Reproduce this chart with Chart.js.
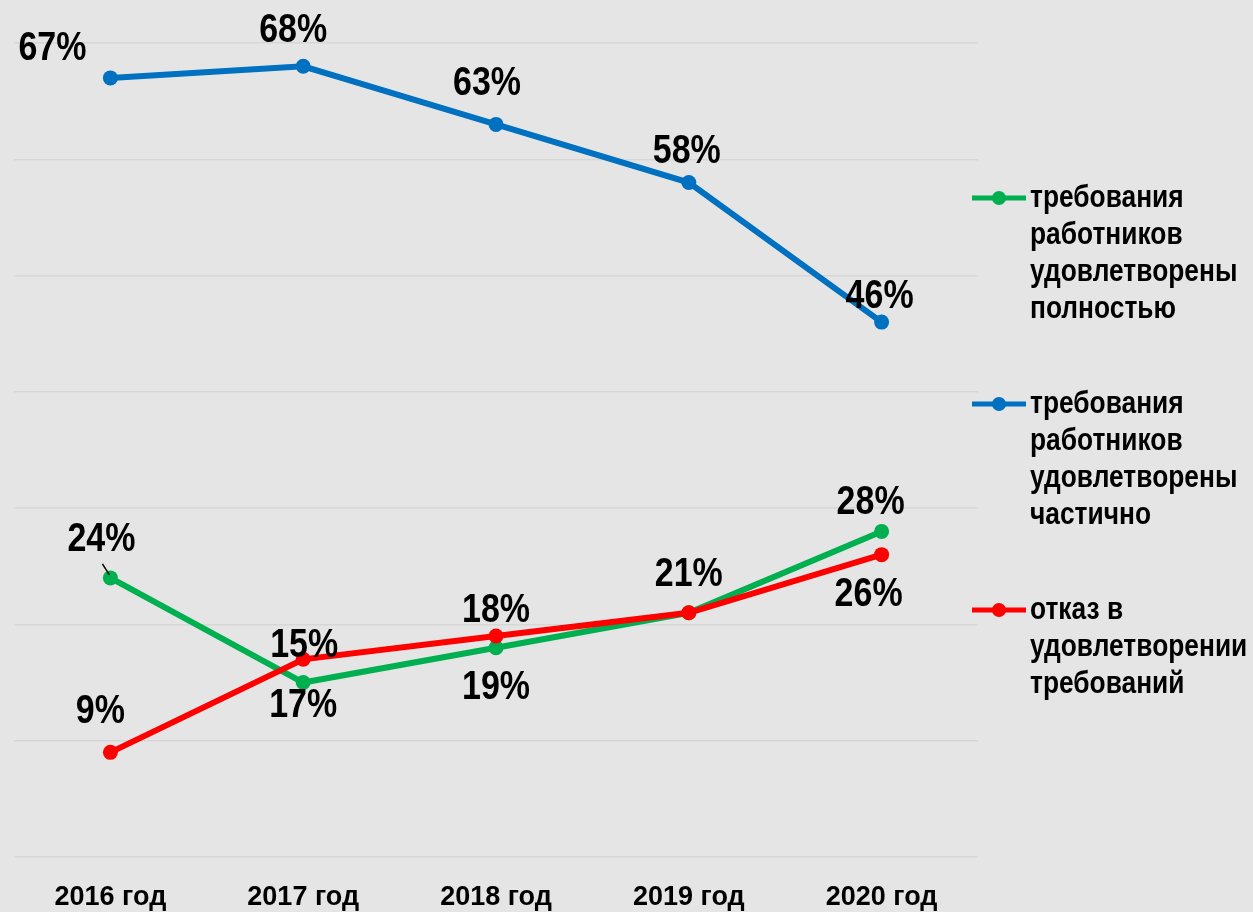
<!DOCTYPE html>
<html>
<head>
<meta charset="utf-8">
<script src="https://cdn.jsdelivr.net/npm/chart.js@4.4.0/dist/chart.umd.min.js"></script>
<style>
  html, body { margin: 0; padding: 0; background: #e5e5e5; }
  #wrap { width: 1253px; height: 912px; position: relative; }
</style>
</head>
<body>
<div id="wrap"><canvas id="myChart"></canvas></div>
<script>
// data
var years = ['2016 год', '2017 год', '2018 год', '2019 год', '2020 год'];
var fullValues = [24, 15, 18, 21, 28];
var partValues = [67, 68, 63, 58, 46];
var refusedValues = [9, 17, 19, 21, 26];
var fullName = ['требования', 'работников', 'удовлетворены', 'полностью'];
var partName = ['требования', 'работников', 'удовлетворены', 'частично'];
var refusedName = ['отказ в', 'удовлетворении', 'требований'];

var FONT = "'Liberation Sans', Arial, sans-serif";
var NARROW = 0.85; // squeeze to look like Arial Narrow

// where each value label sits relative to its point (null = no label)
var labelShift = {
    full:    [[-9, -38], [1, -37], [0, -37], [0, -38], [-11, -28]],
    part:    [[-58, -29], [-10, -35], [-9, -40], [-2, -31], [-2, -25]],
    refused: [[-10, -40], [0, 47], [0, 52], null, [-13, 40]]
};

function narrowText(ctx, text, x, y) {
    ctx.save();
    ctx.translate(x, y);
    ctx.scale(NARROW, 1);
    ctx.fillText(text, 0, 0);
    ctx.restore();
}

var valueLabels = {
    id: 'valueLabels',
    afterDatasetsDraw: function(chart) {
        var ctx = chart.ctx;
        ctx.save();
        ctx.font = 'bold 40px ' + FONT;
        ctx.fillStyle = '#000';
        ctx.textAlign = 'center';
        ctx.textBaseline = 'middle';
        chart.data.datasets.forEach(function(ds, i) {
            var meta = chart.getDatasetMeta(i);
            var shifts = labelShift[ds.key];
            meta.data.forEach(function(pt, j) {
                var s = shifts[j];
                if (!s) return;
                narrowText(ctx, ds.data[j] + '%', pt.x + s[0], pt.y + s[1]);
            });
        });
        // small leader line for the first green label
        var p = chart.getDatasetMeta(0).data[0];
        ctx.strokeStyle = '#000';
        ctx.lineWidth = 1.5;
        ctx.beginPath();
        ctx.moveTo(p.x - 8, p.y - 14);
        ctx.lineTo(p.x - 1, p.y - 3);
        ctx.stroke();
        ctx.restore();
    }
};

var sideLegend = {
    id: 'sideLegend',
    afterDraw: function(chart) {
        var ctx = chart.ctx;
        ctx.save();
        ctx.font = 'bold 31px ' + FONT;
        ctx.textAlign = 'left';
        ctx.textBaseline = 'middle';
        var y = 198;
        chart.data.datasets.forEach(function(ds) {
            ctx.strokeStyle = ds.borderColor;
            ctx.lineWidth = 5;
            ctx.beginPath();
            ctx.moveTo(972, y);
            ctx.lineTo(1026, y);
            ctx.stroke();
            ctx.fillStyle = ds.borderColor;
            ctx.beginPath();
            ctx.arc(999, y, 7, 0, Math.PI * 2);
            ctx.fill();
            ctx.fillStyle = '#000';
            ds.legendLines.forEach(function(line, k) {
                narrowText(ctx, line, 1030, y + k * 37);
            });
            y += ds.legendLines.length * 37 + 58;
        });
        ctx.restore();
    }
};

var ctx = document.getElementById('myChart').getContext('2d');
var chart = new Chart(ctx, {
    type: 'line',
    data: {
        labels: years,
        datasets: [{
            key: 'full',
            label: fullName.join(' '),
            legendLines: fullName,
            data: fullValues,
            borderColor: '#00b050',
            backgroundColor: '#00b050',
            order: 2
        }, {
            key: 'part',
            label: partName.join(' '),
            legendLines: partName,
            data: partValues,
            borderColor: '#0070c0',
            backgroundColor: '#0070c0',
            order: 3
        }, {
            key: 'refused',
            label: refusedName.join(' '),
            legendLines: refusedName,
            data: refusedValues,
            borderColor: '#ff0000',
            backgroundColor: '#ff0000',
            order: 1
        }]
    },
    options: {
        responsive: true,
        maintainAspectRatio: false,
        animation: false,
        elements: {
            line: { borderWidth: 6, tension: 0 },
            point: { radius: 7.5, borderWidth: 0, hoverRadius: 7.5 }
        },
        layout: { padding: { left: 14, right: 275, top: 43, bottom: 0 } },
        plugins: {
            legend: { display: false },
            tooltip: { enabled: false }
        },
        scales: {
            x: {
                offset: true,
                grid: { display: false },
                border: { display: false },
                afterFit: function(scale) { scale.height = 55; },
                ticks: {
                    color: '#000',
                    padding: 16,
                    maxRotation: 0,
                    font: { family: FONT, size: 27, weight: 'bold' }
                }
            },
            y: {
                min: 0,
                max: 70,
                ticks: { display: false, stepSize: 10 },
                border: { display: false },
                grid: { color: '#d7d7d7', lineWidth: 1.5, drawTicks: false }
            }
        }
    },
    plugins: [valueLabels, sideLegend]
});
</script>
</body>
</html>
